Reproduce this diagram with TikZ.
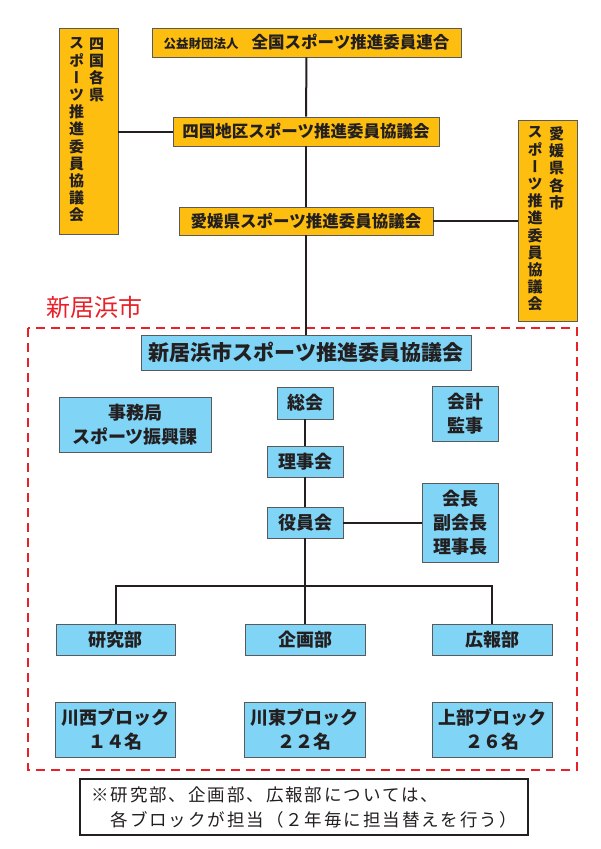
\documentclass[tikz,border=0pt]{standalone}
\usepackage{fontspec}
\setmainfont{Noto Sans CJK JP}
\newfontfamily\tatefont{Noto Sans CJK JP}[RawFeature=+vert]
\newfontfamily\notefont{Noto Sans CJK JP}[LetterSpace=11]
\usetikzlibrary{positioning,calc}
\definecolor{kiiro}{RGB}{253,190,16}
\definecolor{mizuiro}{RGB}{128,212,245}
\definecolor{waku}{RGB}{90,90,90}
\definecolor{sumi}{RGB}{35,31,32}
\definecolor{aka}{RGB}{232,32,40}

\begin{document}
\begin{tikzpicture}[x=1pt, y=-1pt,
  ybox/.style={draw=waku, fill=kiiro, line width=0.9pt, inner sep=0pt, text=sumi,
    font=\bfseries\fontsize{16.5}{20}\selectfont},
  bbox/.style={draw=waku, fill=mizuiro, line width=0.9pt, inner sep=0pt, text=sumi,
    align=center, font=\bfseries\fontsize{18}{24}\selectfont},
  tate/.style={inner sep=0pt, text=sumi, align=center, anchor=north,
    font=\tatefont\bfseries\fontsize{15}{17.2}\selectfont},
  link/.style={draw=sumi, line width=2pt}]

  \useasboundingbox[fill=white] (0,0) rectangle (600,849);

  % upper bodies
  \node[ybox, minimum width=309pt, minimum height=29pt] (zenkoku) at (306.5,42.5)
    {{\fontsize{12.5}{15}\selectfont 公益財団法人}\hspace{13pt}全国スポーツ推進委員連合};
  \node[ybox, minimum width=266pt, minimum height=29pt] (shikoku) at (306,131.5)
    {四国地区スポーツ推進委員協議会};
  \node[ybox, minimum width=254pt, minimum height=28pt] (ehime) at (306,221)
    {愛媛県スポーツ推進委員協議会};
  \node[ybox, minimum width=59pt, minimum height=206pt] (kakuken) at (88.5,131) {};
  \node[tate] (kakuken1) at (96.7,37.5) {四\\国\\各\\県};
  \node[tate] (kakuken2) at (76.7,37.5) {ス\\ポ\\ー\\ツ\\推\\進\\委\\員\\協\\議\\会};
  \node[ybox, minimum width=59pt, minimum height=201pt] (kakushi) at (547.5,220.5) {};
  \node[tate] (kakushi1) at (556.7,126.5) {愛\\媛\\県\\各\\市};
  \node[tate] (kakushi2) at (535,126.5) {ス\\ポ\\ー\\ツ\\推\\進\\委\\員\\協\\議\\会};

  % city frame
  \node[text=aka, inner sep=0pt, font=\fontsize{24}{28}\selectfont] (niihama) at (94,307.5) {新居浜市};
  \draw[aka, line width=2pt, dash pattern=on 9pt off 6pt] (28,328) rectangle (577,770);

  \node[bbox, minimum width=330pt, minimum height=35pt, font=\bfseries\fontsize{21}{24}\selectfont]
    (kyogikai) at (306,352.5) {新居浜市スポーツ推進委員協議会};
  \node[bbox, minimum width=152pt, minimum height=55pt] (jimu) at (135,424.5) {事務局\\スポーツ振興課};
  \node[bbox, minimum width=56pt, minimum height=32pt] (sokai) at (305,403) {総会};
  \node[bbox, minimum width=66pt, minimum height=55pt] (kaikei) at (465,413.5) {会計\\監事};
  \node[bbox, minimum width=76pt, minimum height=31pt] (rijikai) at (305,461.5) {理事会};
  \node[bbox, minimum width=76pt, minimum height=31pt] (yakuin) at (305,522.5) {役員会};
  \node[bbox, minimum width=76pt, minimum height=79pt] (kaicho) at (460,522.5) {会長\\副会長\\理事長};

  \node[bbox, minimum width=119pt, minimum height=31pt] (kenkyu) at (115.5,639.5) {研究部};
  \node[bbox, minimum width=120pt, minimum height=31pt] (kikaku) at (305,639.5) {企画部};
  \node[bbox, minimum width=120pt, minimum height=31pt] (koho) at (492,639.5) {広報部};

  \node[bbox, minimum width=120pt, minimum height=55pt] (kawanishi) at (115,729.5) {川西ブロック\\１４名};
  \node[bbox, minimum width=121pt, minimum height=55pt] (kawahigashi) at (304.5,729.5) {川東ブロック\\２２名};
  \node[bbox, minimum width=120pt, minimum height=55pt] (jobu) at (492,729.5) {上部ブロック\\２６名};

  \node[draw=sumi, line width=2pt, fill=white, minimum width=448pt, minimum height=56pt,
    inner sep=0pt, align=left, text=sumi, font=\notefont\fontsize{17.5}{25}\selectfont]
    (chuki) at (304,807) {※研究部、企画部、広報部については、\\　各ブロックが担当（２年毎に担当替えを行う）};

  % connectors
  \draw[link] (zenkoku) -- (shikoku);
  \draw[link] (shikoku) -- (ehime);
  \draw[link] (ehime) -- (kyogikai);
  \draw[link] (kakuken.east |- shikoku.west) -- (shikoku.west);
  \draw[link] (ehime.east) -- (ehime.east -| kakushi.west);
  \draw[link] (sokai) -- (rijikai);
  \draw[link] (rijikai) -- (yakuin);
  \draw[link] (yakuin) -- (kaicho);
  \draw[link] (yakuin) -- (kikaku);
  \coordinate (bunki) at (305,586);
  \draw[link] (kenkyu.north) |- (bunki) -| (koho.north);
\end{tikzpicture}
\end{document}
